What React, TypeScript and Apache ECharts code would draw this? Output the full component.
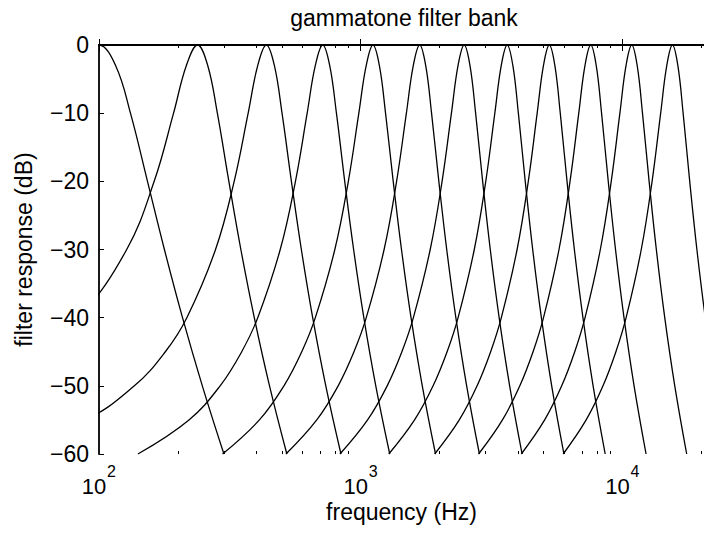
import React, { useEffect, useRef } from "react";
import * as echarts from "echarts";

// dB level of each point along a filter curve (low-frequency side, peak, high-frequency side)
const dbLevels = [-60, -55, -50, -45, -40, -30, -20, -10, -3, 0, -3, -10, -20, -30, -40, -50, -60];

// frequency (Hz) at which each filter reaches the dB level above (null = below 0 Hz)
const filter01 = [null, null, null, null, null, 22.2, 46.8, 68.1, 84.3, 100, 115.7, 131.9, 153.2, 177.8, 208.5, 248.2, 300.2];
const filter02 = [null, null, 27.7, 57.7, 84.0, 127.6, 162.5, 192.7, 215.7, 238, 260.3, 283.3, 313.5, 348.4, 392.1, 448.3, 522.2];
const filter03 = [31.4, 87.5, 136.5, 179.2, 216.6, 278.8, 328.5, 371.5, 404.2, 436, 467.8, 500.5, 543.5, 593.2, 655.4, 735.5, 840.6];
const filter04 = [140.8, 220.7, 290.3, 351.0, 404.2, 492.6, 563.2, 624.3, 670.8, 716, 761.2, 807.7, 868.8, 939.5, 1027.8, 1141.7, 1291.2];
const filter05 = [296.6, 410.1, 509.0, 595.3, 670.9, 796.4, 896.9, 983.7, 1049.8, 1114, 1178.3, 1244.3, 1331.1, 1431.6, 1557.1, 1719.0, 1931.4];
const filter06 = [518.0, 679.3, 820.0, 942.6, 1050.1, 1228.6, 1371.3, 1494.8, 1588.7, 1680, 1771.3, 1865.2, 1988.7, 2131.4, 2309.9, 2540.0, 2842.0];
const filter07 = [833.1, 1062.4, 1262.3, 1436.7, 1589.5, 1843.2, 2046.2, 2221.7, 2355.2, 2485, 2614.9, 2748.3, 2923.8, 3126.8, 3380.5, 3707.7, 4136.9];
const filter08 = [1280.4, 1606.3, 1890.7, 2138.5, 2355.8, 2716.5, 3005.1, 3254.7, 3444.4, 3629, 3813.6, 4003.3, 4252.9, 4541.5, 4902.2, 5367.3, 5977.6];
const filter09 = [1917.3, 2380.7, 2784.9, 3137.2, 3446.1, 3958.9, 4369.1, 4723.9, 4993.6, 5256, 5518.4, 5788.1, 6142.9, 6553.1, 7065.9, 7727.1, 8594.7];
const filter10 = [2822.1, 3480.7, 4055.3, 4556.1, 4995.2, 5724.2, 6307.3, 6811.6, 7194.9, 7568, 7941.1, 8324.4, 8828.7, 9411.8, 10140.8, 11080.7, 12313.9];
const filter11 = [4108.4, 5044.8, 5861.7, 6573.8, 7198.1, 8234.5, 9063.6, 9780.6, 10325.6, 10856, 11386.4, 11931.4, 12648.4, 13477.5, 14513.9, 15850.3, 17603.6];
const filter12 = [5937.8, 7269.1, 8430.6, 9443.0, 10330.5, 11804.0, 12982.8, 14002.1, 14776.9, 15531, 16285.1, 17059.9, 18079.2, 19258.0, 20731.5, 22631.4, 25124.2];

const filters = [filter01, filter02, filter03, filter04, filter05, filter06, filter07, filter08, filter09, filter10, filter11, filter12];

const xMin = 100;
const xMax = 20500;
const majorTicks = [100, 1000, 10000];
const minorTicks = [200, 300, 400, 500, 600, 700, 800, 900, 2000, 3000, 4000, 5000, 6000, 7000, 8000, 9000, 20000];
const yMin = -60;
const yMax = 0;
const yStep = 10;

const titleText = "gammatone filter bank";
const xName = "frequency (Hz)";
const yName = "filter response (dB)";

const FONT = '"Liberation Sans", Arial, Helvetica, sans-serif';

export default function App() {
  const ref = useRef<HTMLDivElement>(null);

  useEffect(() => {
    const el = ref.current;
    if (!el) return;
    const chart = echarts.init(el, null, { renderer: "svg" });

    const axisLineStyle = { color: "#000", width: 1.8 };
    const baseX = {
      type: "log" as const,
      logBase: 10,
      min: xMin,
      max: xMax,
      gridIndex: 0,
      splitLine: { show: false },
    };

    const xAxes = [
      {
        // major ticks + mantissa "10" of the tick labels
        ...baseX,
        position: "bottom",
        axisLine: { show: true, lineStyle: axisLineStyle },
        axisTick: { show: true, inside: true, length: 6, customValues: majorTicks, lineStyle: { color: "#000", width: 1 } },
        axisLabel: {
          show: true,
          customValues: majorTicks,
          margin: 21,
          fontSize: 22,
          fontFamily: FONT,
          color: "#000",
          padding: [0, 10, 0, 0],
          formatter: () => "10",
        },
        name: xName,
        nameLocation: "middle",
        nameGap: 46,
        nameMoveOverlap: false,
        nameTextStyle: { fontSize: 23, fontFamily: FONT, color: "#000", verticalAlign: "top" },
      },
      {
        // minor ticks + exponent of the tick labels
        ...baseX,
        position: "bottom",
        axisLine: { show: false },
        axisTick: { show: true, inside: true, length: 3, customValues: minorTicks, lineStyle: { color: "#000", width: 1 } },
        axisLabel: {
          show: true,
          customValues: majorTicks,
          margin: 9,
          fontSize: 16,
          fontFamily: FONT,
          color: "#000",
          padding: [0, 0, 0, 25],
          formatter: (v: number) => String(Math.round(Math.log10(v))),
        },
      },
      {
        ...baseX,
        position: "top",
        axisLine: { show: true, lineStyle: axisLineStyle },
        axisTick: { show: true, inside: true, length: 6, customValues: majorTicks, lineStyle: { color: "#000", width: 1 } },
        axisLabel: { show: false },
      },
      {
        ...baseX,
        position: "top",
        axisLine: { show: false },
        axisTick: { show: true, inside: true, length: 3, customValues: minorTicks, lineStyle: { color: "#000", width: 1 } },
        axisLabel: { show: false },
      },
    ];

    const series = filters.map((freqs, k) => ({
      type: "line" as const,
      name: `filter ${k + 1}`,
      xAxisIndex: 0,
      yAxisIndex: 0,
      data: freqs
        .map((f, i) => (f == null ? null : [f, dbLevels[i]]))
        .filter((p) => p !== null),
      showSymbol: false,
      symbol: "none",
      smooth: 0.4,
      clip: true,
      silent: true,
      lineStyle: { color: "#000", width: 1.3 },
    }));

    chart.setOption({
      animation: false,
      backgroundColor: "#fff",
      grid: { left: 99, right: 0, top: 45, bottom: 79, containLabel: false },
      xAxis: xAxes,
      yAxis: {
        type: "value",
        min: yMin,
        max: yMax,
        interval: yStep,
        position: "left",
        splitLine: { show: false },
        axisLine: { show: true, lineStyle: axisLineStyle },
        axisTick: { show: true, inside: true, length: 5, lineStyle: { color: "#000", width: 1 } },
        axisLabel: {
          margin: 10,
          fontSize: 23,
          fontFamily: FONT,
          color: "#000",
          formatter: (v: number) => (v < 0 ? "\u2212" + Math.abs(v) : String(v)),
        },
        name: yName,
        nameLocation: "middle",
        nameGap: 64,
        nameTextStyle: { fontSize: 23, fontFamily: FONT, color: "#000" },
      },
      graphic: [
        {
          type: "text",
          x: 404,
          y: 6,
          style: {
            text: titleText,
            fontSize: 23,
            fontFamily: FONT,
            fill: "#000",
            align: "center",
            verticalAlign: "top",
          },
        },
      ],
      series,
    });

    return () => chart.dispose();
  }, []);

  return (
    <div
      ref={ref}
      style={{ position: "fixed", left: 0, top: 0, width: 704, height: 533, background: "#fff" }}
    />
  );
}
